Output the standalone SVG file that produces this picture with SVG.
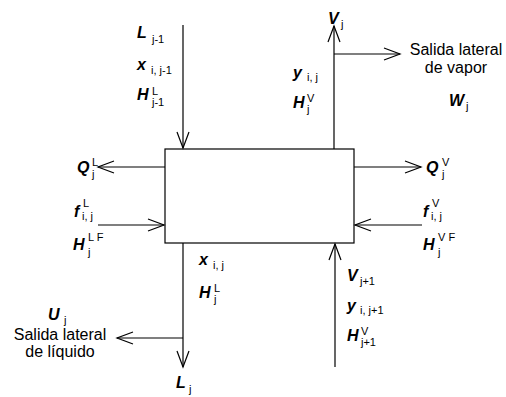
<svg xmlns="http://www.w3.org/2000/svg" width="506" height="397" viewBox="0 0 506 397">
  <style>
    .s { font-family: "Liberation Sans", Arial, sans-serif; font-size: 16px; font-weight: bold; font-style: italic; fill: #000; }
    .i { font-family: "Liberation Sans", Arial, sans-serif; font-size: 11px; fill: #000; }
    .t { font-family: "Liberation Sans", Arial, sans-serif; font-size: 16px; fill: #000; text-anchor: middle; }
    .ln { fill: none; stroke: #000; stroke-width: 1.2; }
  </style>
  <defs>
    <marker id="open" markerUnits="userSpaceOnUse" markerWidth="20" markerHeight="16" refX="17" refY="7" orient="auto">
      <path d="M1,1 L17,7 L1,13" fill="none" stroke="#000" stroke-width="1.2"/>
    </marker>
  </defs>

  <!-- equilibrium stage j -->
  <g id="stage">
    <rect class="ln" x="165" y="149" width="189" height="94"/>
  </g>

  <!-- streams -->
  <g id="connectors">
    <path class="ln" d="M183,25 L183,148" marker-end="url(#open)"/>
    <path class="ln" d="M334,149 L334,26" marker-end="url(#open)"/>
    <path class="ln" d="M334,54 L400,54" marker-end="url(#open)"/>
    <path class="ln" d="M165,167 L98,167" marker-end="url(#open)"/>
    <path class="ln" d="M98,225 L164,225" marker-end="url(#open)"/>
    <path class="ln" d="M354,167 L421,167" marker-end="url(#open)"/>
    <path class="ln" d="M422,225 L355,225" marker-end="url(#open)"/>
    <path class="ln" d="M183,243 L183,367" marker-end="url(#open)"/>
    <path class="ln" d="M183,338 L117,338" marker-end="url(#open)"/>
    <path class="ln" d="M335,367 L335,244" marker-end="url(#open)"/>
  </g>

  <!-- liquid from stage above -->
  <g id="liquid-in">
    <text class="s" x="137" y="38">L</text><text class="i" x="152" y="43">j-1</text>
    <text class="s" x="137" y="70">x</text><text class="i" x="151" y="74">i, j-1</text>
    <text class="s" x="137" y="100">H</text><text class="i" x="152" y="95">L</text><text class="i" x="152" y="106">j-1</text>
  </g>

  <!-- vapour to stage above -->
  <g id="vapor-out">
    <text class="s" x="328" y="24">V</text><text class="i" x="341" y="28">j</text>
    <text class="s" x="293" y="78">y</text><text class="i" x="307" y="81">i, j</text>
    <text class="s" x="293" y="108">H</text><text class="i" x="307" y="102">V</text><text class="i" x="307" y="113">j</text>
  </g>

  <!-- vapour side draw -->
  <g id="vapor-draw">
    <text class="t" x="456" y="55">Salida lateral</text>
    <text class="t" x="456" y="73">de vapor</text>
    <text class="s" x="449" y="106">W</text><text class="i" x="466" y="110">j</text>
  </g>

  <!-- heat duties -->
  <g id="heat-liquid">
    <text class="s" x="77" y="173">Q</text><text class="i" x="92" y="166">L</text><text class="i" x="92" y="178">j</text>
  </g>
  <g id="heat-vapor">
    <text class="s" x="426" y="173">Q</text><text class="i" x="442" y="166">V</text><text class="i" x="442" y="178">j</text>
  </g>

  <!-- feeds -->
  <g id="feed-liquid">
    <text class="s" x="74" y="217">f</text><text class="i" x="83" y="207">L</text><text class="i" x="82" y="220">i, j</text>
    <text class="s" x="73" y="250">H</text><text class="i" x="88" y="241">L F</text><text class="i" x="88" y="256">j</text>
  </g>
  <g id="feed-vapor">
    <text class="s" x="423" y="217">f</text><text class="i" x="432" y="207">V</text><text class="i" x="431" y="220">i, j</text>
    <text class="s" x="423" y="250">H</text><text class="i" x="438" y="241">V F</text><text class="i" x="438" y="256">j</text>
  </g>

  <!-- liquid to stage below -->
  <g id="liquid-out">
    <text class="s" x="199" y="265">x</text><text class="i" x="213" y="269">i, j</text>
    <text class="s" x="199" y="298">H</text><text class="i" x="214" y="292">L</text><text class="i" x="214" y="303">j</text>
    <text class="s" x="176" y="388">L</text><text class="i" x="189" y="393">j</text>
  </g>

  <!-- liquid side draw -->
  <g id="liquid-draw">
    <text class="s" x="48" y="320">U</text><text class="i" x="64" y="324">j</text>
    <text class="t" x="60" y="340">Salida lateral</text>
    <text class="t" x="60" y="357">de líquido</text>
  </g>

  <!-- vapour from stage below -->
  <g id="vapor-in">
    <text class="s" x="347" y="281">V</text><text class="i" x="360" y="285">j+1</text>
    <text class="s" x="347" y="311">y</text><text class="i" x="360" y="314">i, j+1</text>
    <text class="s" x="347" y="341">H</text><text class="i" x="361" y="335">V</text><text class="i" x="361" y="346">j+1</text>
  </g>
</svg>
